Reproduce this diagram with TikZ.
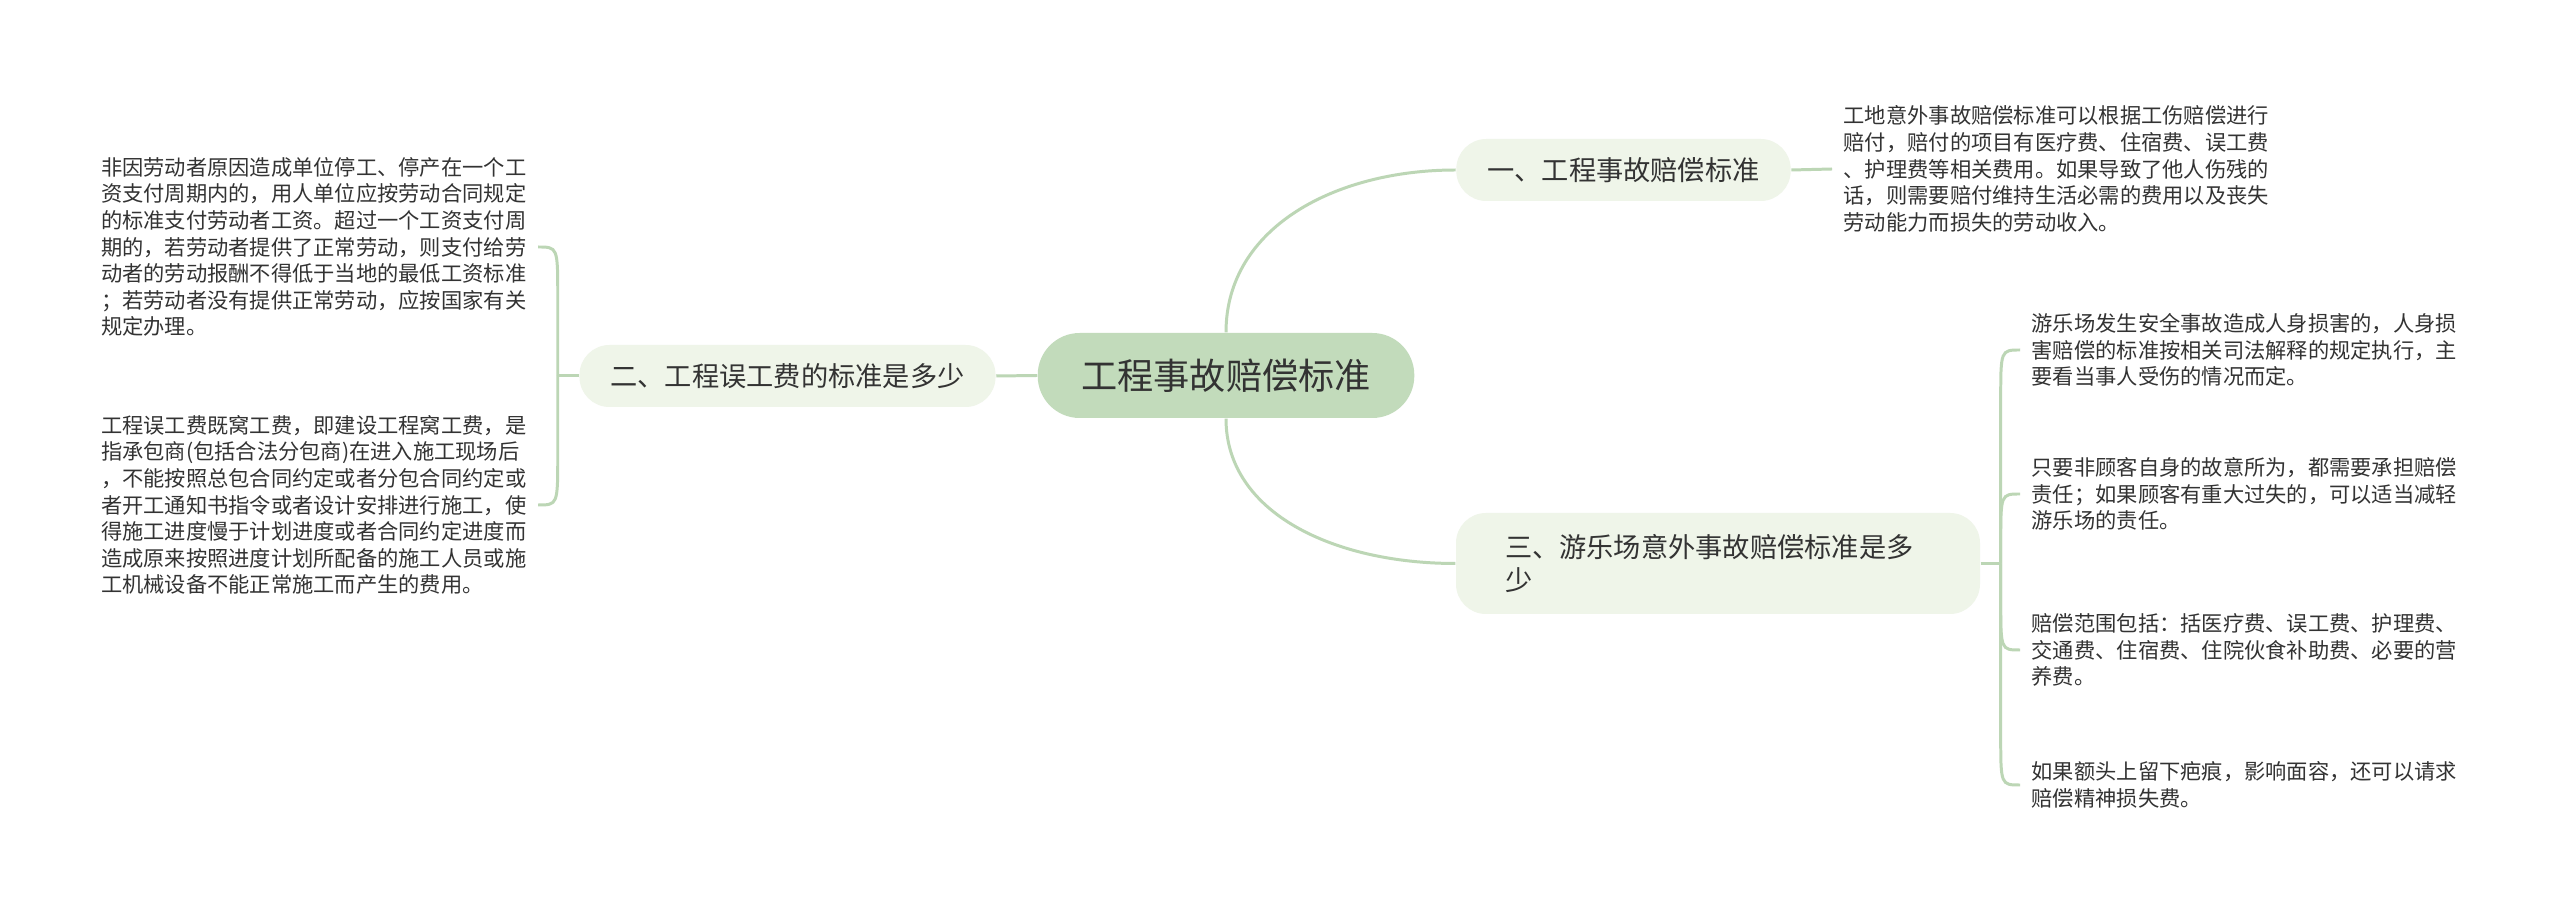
\documentclass[tikz,border=0pt]{standalone}
\usepackage{fontspec}
\setmainfont{Noto Sans CJK SC}
\usetikzlibrary{calc}
\definecolor{rootgreen}{HTML}{C2DBBB}
\definecolor{branchgreen}{HTML}{EFF5E9}
\definecolor{linkgreen}{HTML}{BCD6B5}
\definecolor{txtgray}{HTML}{333333}

\begin{document}
\begin{tikzpicture}[text=txtgray,
    root/.style={rectangle, rounded corners=0.42cm, fill=rootgreen, minimum height=0.85cm, inner xsep=0.435cm, font=\fontsize{10.3pt}{12pt}\selectfont},
    branch/.style={rectangle, rounded corners=0.3cm, fill=branchgreen, minimum height=0.62cm, inner xsep=0.31cm, font=\fontsize{7.75pt}{9.4pt}\selectfont},
    leaf/.style={align=left, inner xsep=0.11cm, inner ysep=0.05cm, font=\fontsize{6.05pt}{7.57pt}\selectfont},
    link/.style={draw=linkgreen, line width=0.85pt}
]
\fill[white] (0,0) rectangle (25.6,-9.1);
\useasboundingbox (0,0) rectangle (25.6,-9.1);

% Root and branches
\node[root] (root) at (12.26,-3.755) {工程事故赔偿标准};
\node[branch] (b1) at (16.235,-1.70) {一、工程事故赔偿标准};
\node[branch] (b2) at (7.875,-3.76) {二、工程误工费的标准是多少};
\node[branch, align=left, text width=4.26cm, inner xsep=0.49cm, minimum height=1.01cm] (b3) at (17.18,-5.635) {三、游乐场意外事故赔偿标准是多\\少};

% Leaves
\node[leaf, anchor=west] (l1) at (18.32,-1.69) {工地意外事故赔偿标准可以根据工伤赔偿进行\\赔付，赔付的项目有医疗费、住宿费、误工费\\、护理费等相关费用。如果导致了他人伤残的\\话，则需要赔付维持生活必需的费用以及丧失\\劳动能力而损失的劳动收入。};
\node[leaf, anchor=east] (l2a) at (5.38,-2.47) {非因劳动者原因造成单位停工、停产在一个工\\资支付周期内的，用人单位应按劳动合同规定\\的标准支付劳动者工资。超过一个工资支付周\\期的，若劳动者提供了正常劳动，则支付给劳\\动者的劳动报酬不得低于当地的最低工资标准\\；若劳动者没有提供正常劳动，应按国家有关\\规定办理。};
\node[leaf, anchor=east] (l2b) at (5.38,-5.05) {工程误工费既窝工费，即建设工程窝工费，是\\指承包商(包括合法分包商)在进入施工现场后\\，不能按照总包合同约定或者分包合同约定或\\者开工通知书指令或者设计安排进行施工，使\\得施工进度慢于计划进度或者合同约定进度而\\造成原来按照进度计划所配备的施工人员或施\\工机械设备不能正常施工而产生的费用。};
\node[leaf, anchor=west] (l3a) at (20.20,-3.50) {游乐场发生安全事故造成人身损害的，人身损\\害赔偿的标准按相关司法解释的规定执行，主\\要看当事人受伤的情况而定。};
\node[leaf, anchor=west] (l3b) at (20.20,-4.94) {只要非顾客自身的故意所为，都需要承担赔偿\\责任；如果顾客有重大过失的，可以适当减轻\\游乐场的责任。};
\node[leaf, anchor=west] (l3c) at (20.20,-6.50) {赔偿范围包括：括医疗费、误工费、护理费、\\交通费、住宿费、住院伙食补助费、必要的营\\养费。};
\node[leaf, anchor=west] (l3d) at (20.20,-7.85) {如果额头上留下疤痕，影响面容，还可以请求\\赔偿精神损失费。};

\coordinate (s2) at ($(b2.west)+(-0.21,0)$);
\coordinate (s3) at ($(b3.east)+(0.2,0)$);

% Links
\draw[link] (root.north) .. controls +(0,1.05) and +(-1.2,0) .. (b1.west);
\draw[link] (root.south) .. controls +(0,-0.95) and +(-1.2,0) .. (b3.west);
\draw[link] (root.west) -- (b2.east);
\draw[link] (b1.east) -- (l1.west);
\draw[link] (b2.west) -- (s2);
\draw[link] (s2) -- ($(s2 |- l2a.east)+(0,-0.5)$) .. controls (s2 |- l2a.east) .. (l2a.east);
\draw[link] (s2) -- ($(s2 |- l2b.east)+(0,0.5)$) .. controls (s2 |- l2b.east) .. (l2b.east);
\draw[link] (b3.east) -- (s3);
\draw[link] (s3) -- ($(s3 |- l3a.west)+(0,-0.5)$) .. controls (s3 |- l3a.west) .. (l3a.west);
\draw[link] (s3) -- ($(s3 |- l3b.west)+(0,-0.5)$) .. controls (s3 |- l3b.west) .. (l3b.west);
\draw[link] (s3) -- ($(s3 |- l3c.west)+(0,0.5)$) .. controls (s3 |- l3c.west) .. (l3c.west);
\draw[link] (s3) -- ($(s3 |- l3d.west)+(0,0.5)$) .. controls (s3 |- l3d.west) .. (l3d.west);
\end{tikzpicture}
\end{document}
